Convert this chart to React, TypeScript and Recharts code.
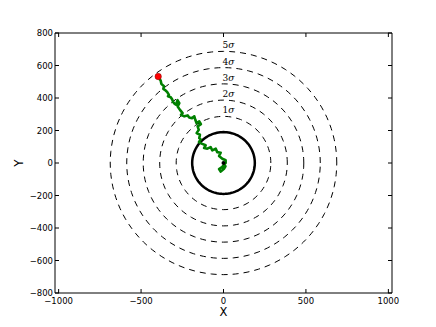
import React from "react";
import { ScatterChart, Scatter, XAxis, YAxis } from "recharts";

// radii of the rings (data units)
const coreRadius = 190;
const sigmaRadii = [287, 387, 487, 587, 687];
const sigmaNames = ["1", "2", "3", "4", "5"];

// tick values
const xTicks = [-1000, -500, 0, 500, 1000];
const yTicks = [-800, -600, -400, -200, 0, 200, 400, 600, 800];

// random walk, from the origin outwards
const walkX = [0, 12, 3, -17, -27, -9, 13, 13, -7, -27, -17, -38, -47, -68, -78, -98, -118, -108, -129, -149, -138, -147, -143, -163, -150, -157, -137, -147, -163, -171, -177, -191, -208, -217, -238, -258, -248, -264, -278, -268, -279, -288, -296, -305, -311, -320, -337, -331, -341, -351, -365, -361, -377, -381, -396];
const walkY = [0, -21, -35, -53, -37, -25, 0, 17, 26, 43, 63, 67, 88, 78, 98, 88, 92, 109, 118, 129, 145, 153, 174, 184, 204, 225, 239, 256, 245, 266, 287, 276, 280, 293, 287, 296, 307, 327, 348, 368, 387, 359, 364, 374, 391, 405, 411, 419, 436, 446, 456, 472, 487, 507, 532];

const walk = walkX.map((x, i) => ({ x, y: walkY[i] }));
const startPt = [walk[0]];
const endPt = [walk[walk.length - 1]];

// outline of a circle of radius r
const outline = (r: number) => {
  const pts = [];
  for (let a = 0; a <= 360; a += 3) {
    const t = (a * Math.PI) / 180;
    pts.push({ x: r * Math.cos(t), y: r * Math.sin(t) });
  }
  return pts;
};

const ringTops = sigmaRadii.map((r, i) => ({ x: 0, y: r, name: sigmaNames[i] }));

const FONT = "DejaVu Sans, sans-serif";
const fmt = (v: number) => (v < 0 ? "\u2212" + Math.abs(v) : String(v));
const noShape = () => <g />;

const BottomTick = (p: any) => (
  <g>
    <line x1={p.x} y1={p.y} x2={p.x} y2={p.y - 4} stroke="#000" />
    <text x={p.x} y={p.y + 10.5} textAnchor="middle" fontSize={8.5} fontFamily={FONT} fill="#000">
      {fmt(p.payload.value)}
    </text>
  </g>
);
const TopTick = (p: any) => <line x1={p.x} y1={p.y} x2={p.x} y2={p.y + 4} stroke="#000" />;
const LeftTick = (p: any) => (
  <g>
    <line x1={p.x} y1={p.y} x2={p.x + 4} y2={p.y} stroke="#000" />
    <text x={p.x - 2} y={p.y + 3} textAnchor="end" fontSize={8.5} fontFamily={FONT} fill="#000">
      {fmt(p.payload.value)}
    </text>
  </g>
);
const RightTick = (p: any) => <line x1={p.x} y1={p.y} x2={p.x - 4} y2={p.y} stroke="#000" />;

const SigmaLabel = (p: any) => (
  <text x={p.cx + 5} y={p.cy - 3} textAnchor="middle" fontSize={9} fontFamily="DejaVu Serif, serif" fill="#000">
    {p.payload.name}
    <tspan fontStyle="italic">σ</tspan>
  </text>
);

const XLabel = (p: any) => {
  const vb = p.viewBox || { x: 55, y: 293, width: 337, height: 34 };
  return (
    <text x={vb.x + vb.width / 2} y={vb.y + 22.5} textAnchor="middle" fontSize={11.5} fontFamily={FONT} fill="#000">
      X
    </text>
  );
};
const YLabel = (p: any) => {
  const vb = p.viewBox || { x: 0, y: 33, width: 55, height: 260 };
  const cx = vb.x + 23;
  const cy = vb.y + vb.height / 2;
  return (
    <text x={cx} y={cy} transform={`rotate(-90, ${cx}, ${cy})`} textAnchor="middle" fontSize={12} fontFamily={FONT} fill="#000">
      Y
    </text>
  );
};

export default function App() {
  return (
    <div style={{ position: "absolute", left: 0, top: 0, background: "#fff" }}>
      <ScatterChart width={436} height={327} margin={{ top: 32, right: 43, bottom: 0, left: 0 }}>
        <XAxis
          xAxisId="b"
          type="number"
          dataKey="x"
          domain={[-1022, 1022]}
          ticks={xTicks}
          allowDataOverflow
          height={34}
          tickSize={0}
          tickMargin={0}
          tickLine={false}
          tick={BottomTick}
          axisLine={{ stroke: "#000" }}
          label={XLabel}
        />
        <XAxis
          xAxisId="t"
          orientation="top"
          type="number"
          dataKey="x"
          domain={[-1022, 1022]}
          ticks={xTicks}
          allowDataOverflow
          height={1}
          tickSize={0}
          tickMargin={0}
          tickLine={false}
          tick={TopTick}
          axisLine={{ stroke: "#000" }}
        />
        <YAxis
          yAxisId="l"
          type="number"
          dataKey="y"
          domain={[-800, 800]}
          ticks={yTicks}
          allowDataOverflow
          width={55}
          tickSize={0}
          tickMargin={0}
          tickLine={false}
          tick={LeftTick}
          axisLine={{ stroke: "#000" }}
          label={YLabel}
        />
        <YAxis
          yAxisId="r"
          orientation="right"
          type="number"
          dataKey="y"
          domain={[-800, 800]}
          ticks={yTicks}
          allowDataOverflow
          width={1}
          tickSize={0}
          tickMargin={0}
          tickLine={false}
          tick={RightTick}
          axisLine={{ stroke: "#000" }}
        />
        {sigmaRadii.map((r) => (
          <Scatter
            key={r}
            xAxisId="b"
            yAxisId="l"
            data={outline(r)}
            line={{ stroke: "#000", strokeWidth: 1, strokeDasharray: "6 5" }}
            shape={noShape}
            isAnimationActive={false}
          />
        ))}
        <Scatter
          xAxisId="b"
          yAxisId="l"
          data={outline(coreRadius)}
          line={{ stroke: "#000", strokeWidth: 2.5 }}
          shape={noShape}
          isAnimationActive={false}
        />
        <Scatter xAxisId="b" yAxisId="l" data={ringTops} shape={SigmaLabel} isAnimationActive={false} />
        <Scatter
          xAxisId="b"
          yAxisId="l"
          data={walk}
          line={{ stroke: "#008000", strokeWidth: 2.6, strokeLinejoin: "round" }}
          shape={noShape}
          isAnimationActive={false}
        />
        <Scatter xAxisId="t" yAxisId="r" data={startPt} fill="#000" shape={(p: any) => <circle cx={p.cx} cy={p.cy} r={2} fill="#000" />} isAnimationActive={false} />
        <Scatter xAxisId="b" yAxisId="l" data={endPt} shape={(p: any) => <circle cx={p.cx} cy={p.cy} r={3.2} fill="#ff0000" stroke="#800000" strokeWidth={0.5} />} isAnimationActive={false} />
      </ScatterChart>
    </div>
  );
}
